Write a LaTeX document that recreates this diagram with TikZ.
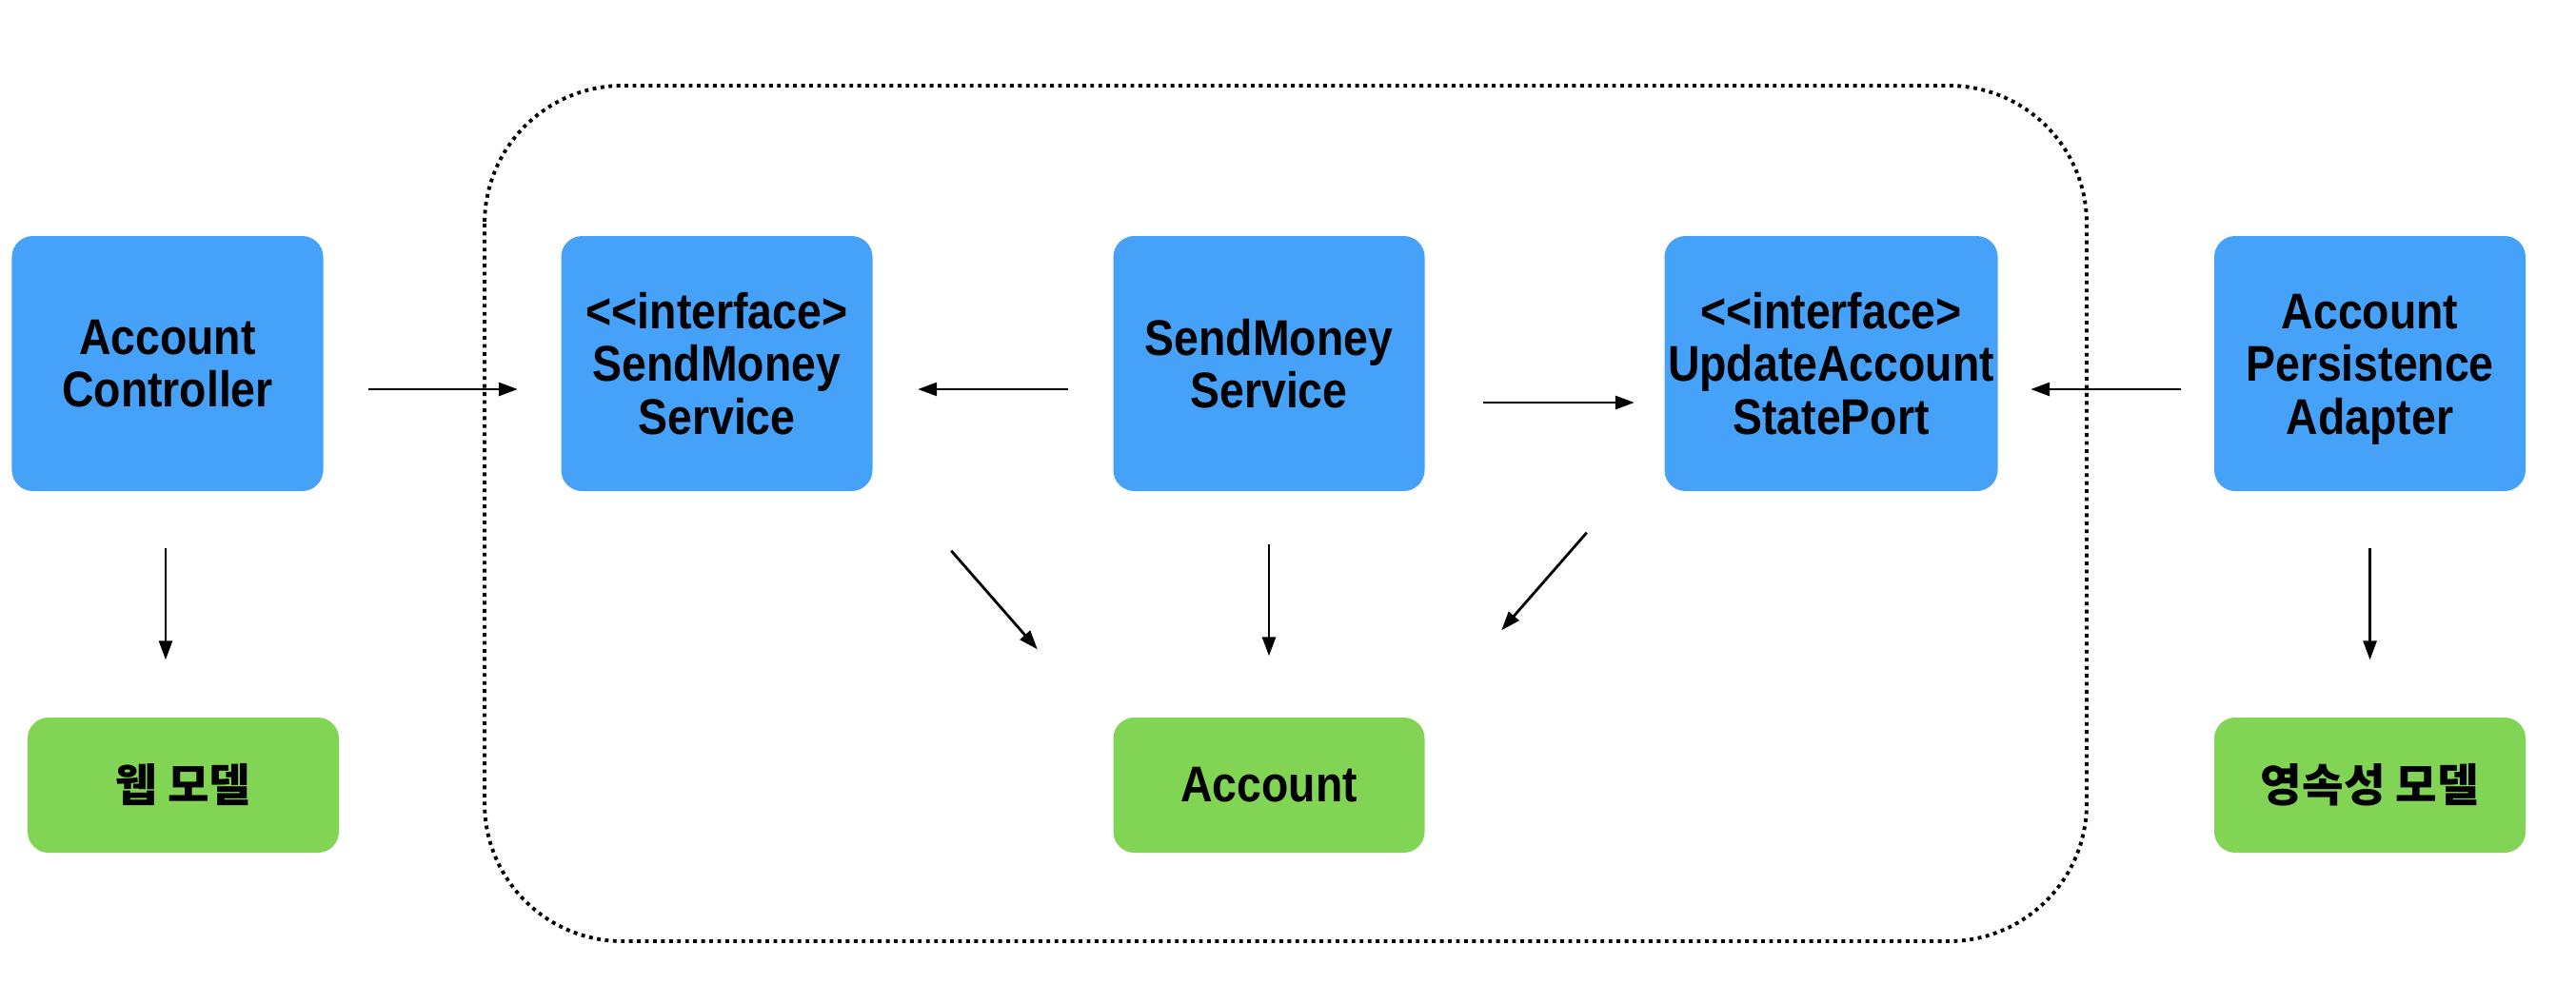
\documentclass[tikz,border=0pt]{standalone}
\usepackage{fontspec}
\setmainfont{Liberation Sans}[FakeStretch=0.88]
\newfontfamily\kofont{Noto Sans CJK KR Bold}
\usetikzlibrary{arrows.meta}

\definecolor{portblue}{RGB}{69,162,248}
\definecolor{modelgreen}{RGB}{129,212,84}

\tikzset{
  unit/.style={fill=portblue, rounded corners=0.22cm, minimum width=3.27cm, minimum height=2.68cm,
               align=center, font=\fontsize{15}{15.8}\selectfont\bfseries},
  model/.style={fill=modelgreen, rounded corners=0.22cm, minimum width=3.27cm, minimum height=1.42cm,
               align=center, font=\fontsize{15}{15.8}\selectfont\bfseries},
  dep/.style={->, line width=0.8pt},
  >={Triangle[length=0.2cm,width=0.14cm]}
}

\begin{document}
\begin{tikzpicture}
                    \useasboundingbox (0,0) rectangle (27.06,-10.54);
                    % application core
                    \draw [line width=1.1pt, dash pattern=on 1.1pt off 1.3pt, rounded corners=1.45cm]
                          (5.09,-0.90) rectangle (21.92,-9.89);
                    \node [unit] (ac) at (1.76,-3.82) {Account\\Controller};
                    \node [unit] (isms) at (7.53,-3.82) {<{}<interface>\\SendMoney\\Service};
                    \node [unit] (sms) at (13.33,-3.82) {SendMoney\\Service};
                    \node [unit, minimum width=3.5cm, inner xsep=0.5pt] (port) at (19.235,-3.82) {<{}<interface>\\UpdateAccount\\StatePort};
                    \node [unit] (apa) at (24.895,-3.82) {\rule{0pt}{0.48cm}Account\\Persistence\\Adapter};
                    \node [model] (web) at (1.925,-8.25) {\kofont\fontsize{13.5}{15}\selectfont 웹 모델};
                    \node [model] (acct) at (13.33,-8.25) {Account};
                    \node [model] (pers) at (24.895,-8.25) {\kofont\fontsize{13.5}{15}\selectfont 영속성 모델};
                    % horizontal dependencies
                    \draw [dep, shorten <=0.47cm, shorten >=0.45cm] ([yshift=-0.27cm]ac.east) -- ([yshift=-0.27cm]isms.west);
                    \draw [dep, shorten <=0.47cm, shorten >=0.47cm] ([yshift=-0.27cm]sms.west) -- ([yshift=-0.27cm]isms.east);
                    \draw [dep, shorten <=0.61cm, shorten >=0.31cm] ([yshift=-0.41cm]sms.east) -- ([yshift=-0.41cm]port.west);
                    \draw [dep, shorten <=0.34cm, shorten >=0.34cm] ([yshift=-0.27cm]apa.west) -- ([yshift=-0.27cm]port.east);
                    % down to the models
                    \draw [dep, shorten <=0.59cm, shorten >=0.60cm] ([xshift=-0.02cm]ac.south) -- ([xshift=-0.02cm]ac.south |- web.north);
                    \draw [dep, shorten <=0.55cm, shorten >=0.64cm] (sms.south) -- (acct.north);
                    \draw [dep, shorten <=0.59cm, shorten >=0.60cm] (apa.south) -- (pers.north);
                    \draw [dep] ([shift={(0.82,-0.62)}]isms.south east) -- ([shift={(-0.79,0.71)}]acct.north west);
                    \draw [dep] ([shift={(-0.81,-0.43)}]port.south west) -- ([shift={(0.80,0.91)}]acct.north east);
            \end{tikzpicture}
\end{document}
